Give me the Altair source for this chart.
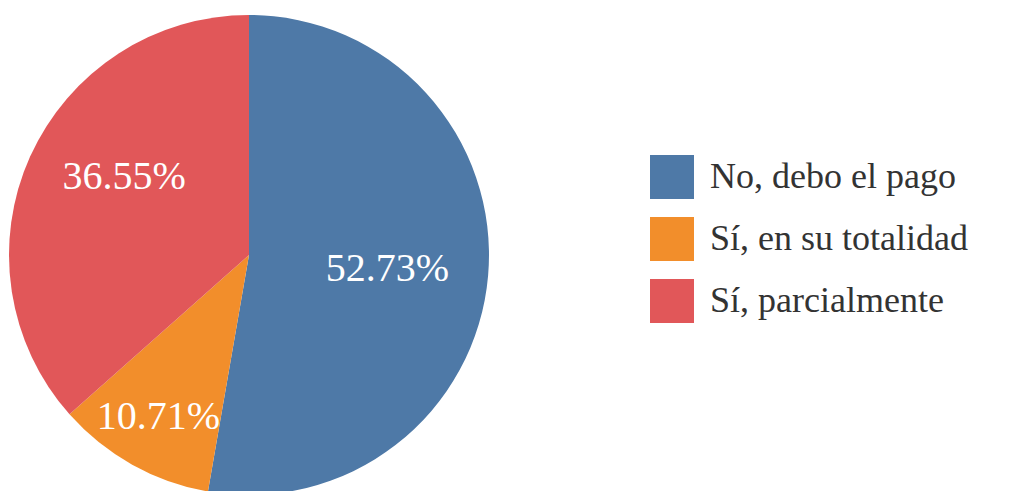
import altair as alt
import pandas as pd
import math

categories = ["No, debo el pago", "Sí, en su totalidad", "Sí, parcialmente"]
values = [52.73, 10.71, 36.55]
labels = ["52.73%", "10.71%", "36.55%"]
colors = ["#4e79a7", "#f28e2b", "#e15759"]

df = pd.DataFrame({"cat": categories, "val": values, "lab": labels, "idx": list(range(len(categories)))})

base = alt.Chart(df).transform_joinaggregate(
    total="sum(val)"
).transform_window(
    cum="sum(val)", sort=[alt.SortField("idx")]
).transform_calculate(
    mid="(datum.cum - datum.val/2) / datum.total * 2 * PI"
)

pie = alt.Chart(df).mark_arc(outerRadius=240, stroke=None).encode(
    theta=alt.Theta("val:Q", stack=True),
    order=alt.Order("idx:Q"),
    color=alt.Color(
        "cat:N",
        scale=alt.Scale(domain=categories, range=colors),
        legend=alt.Legend(
            title=None,
            orient="none",
            legendX=642,
            legendY=147,
            symbolType="square",
            symbolSize=1936,
            symbolStrokeWidth=0,
            symbolOpacity=1,
            rowPadding=18,
            labelOffset=16,
            labelFont="Liberation Serif",
            labelFontSize=36,
            labelColor="#333333",
            labelLimit=400,
            padding=0,
        ),
    ),
    x=alt.value(241),
    y=alt.value(247),
)

def label_layer(cat, r, dx=0, dy=0):
    return base.transform_filter(alt.datum.cat == cat).mark_text(
        radius=r, font="Liberation Serif", fontSize=40, color="white",
        align="center", baseline="middle", dx=dx, dy=dy,
    ).encode(
        theta=alt.Theta("mid:Q", scale=None, stack=False),
        text="lab:N",
        x=alt.value(241),
        y=alt.value(247),
    )

chart = alt.layer(
    pie,
    label_layer(categories[0], 139, 0, 2),
    label_layer(categories[1], 186),
    label_layer(categories[2], 150, 12, -17),
).properties(
    width=1011, height=483, padding=0, autosize=alt.AutoSizeParams(type="none")
).configure_view(stroke=None)

chart.save("out.html", embed_options={"renderer": "svg", "actions": False})
